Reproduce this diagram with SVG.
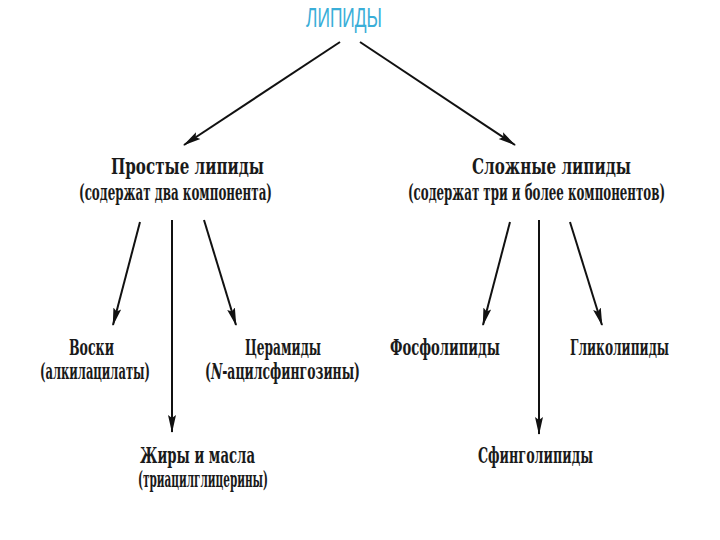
<svg xmlns="http://www.w3.org/2000/svg" width="720" height="540" viewBox="0 0 720 540">
<defs>
<marker id="ah" markerWidth="18" markerHeight="10" refX="17" refY="5" orient="auto" markerUnits="userSpaceOnUse">
<path d="M0,1 L18,5 L0,9 L3,5 Z" fill="#111"/>
</marker>
<style>
.n{font-family:'DejaVu Serif','Liberation Serif',serif;font-size:23px;fill:#1a1a1a;font-weight:bold}
.t{fill:#3aaed8;font-family:'Liberation Sans',Arial,sans-serif;font-size:28px}
.c line{stroke:#111;stroke-width:2;marker-end:url(#ah)}
</style>
</defs>
<rect width="720" height="540" fill="#fff"/>
<g id="root"><text class="t" x="306" y="27" textLength="76" lengthAdjust="spacingAndGlyphs">ЛИПИДЫ</text></g>
<g id="simple">
<text class="n" x="111" y="174" textLength="153" lengthAdjust="spacingAndGlyphs">Простые липиды</text>
<text class="n" x="79" y="200" textLength="193" lengthAdjust="spacingAndGlyphs">(содержат два компонента)</text>
</g>
<g id="complex">
<text class="n" x="472" y="174" textLength="159" lengthAdjust="spacingAndGlyphs">Сложные липиды</text>
<text class="n" x="408" y="200" textLength="257" lengthAdjust="spacingAndGlyphs">(содержат три и более компонентов)</text>
</g>
<g id="waxes">
<text class="n" x="69" y="355" textLength="45" lengthAdjust="spacingAndGlyphs">Воски</text>
<text class="n" x="40" y="379" textLength="110" lengthAdjust="spacingAndGlyphs">(алкилацилаты)</text>
</g>
<g id="ceramides">
<text class="n" x="245" y="355" textLength="76" lengthAdjust="spacingAndGlyphs">Церамиды</text>
<text class="n" x="205" y="379" textLength="155" lengthAdjust="spacingAndGlyphs">(<tspan font-style="italic">N</tspan>-ацилсфингозины)</text>
</g>
<g id="fats">
<text class="n" x="140" y="463" textLength="115" lengthAdjust="spacingAndGlyphs">Жиры и масла</text>
<text class="n" x="138" y="487" textLength="130" lengthAdjust="spacingAndGlyphs">(триацилглицерины)</text>
</g>
<g id="phospholipids"><text class="n" x="390" y="355" textLength="110" lengthAdjust="spacingAndGlyphs">Фосфолипиды</text></g>
<g id="glycolipids"><text class="n" x="570" y="355" textLength="99" lengthAdjust="spacingAndGlyphs">Гликолипиды</text></g>
<g id="sphingolipids"><text class="n" x="478" y="463" textLength="115" lengthAdjust="spacingAndGlyphs">Сфинголипиды</text></g>
<g class="c" id="connectors">
<line x1="340" y1="42" x2="184" y2="145"/>
<line x1="360" y1="42" x2="515" y2="145"/>
<line x1="140" y1="222" x2="113" y2="325"/>
<line x1="172" y1="220" x2="172" y2="432"/>
<line x1="204" y1="220" x2="236" y2="325"/>
<line x1="510" y1="222" x2="483" y2="325"/>
<line x1="539" y1="220" x2="539" y2="434"/>
<line x1="570" y1="222" x2="602" y2="325"/>
</g>
</svg>
